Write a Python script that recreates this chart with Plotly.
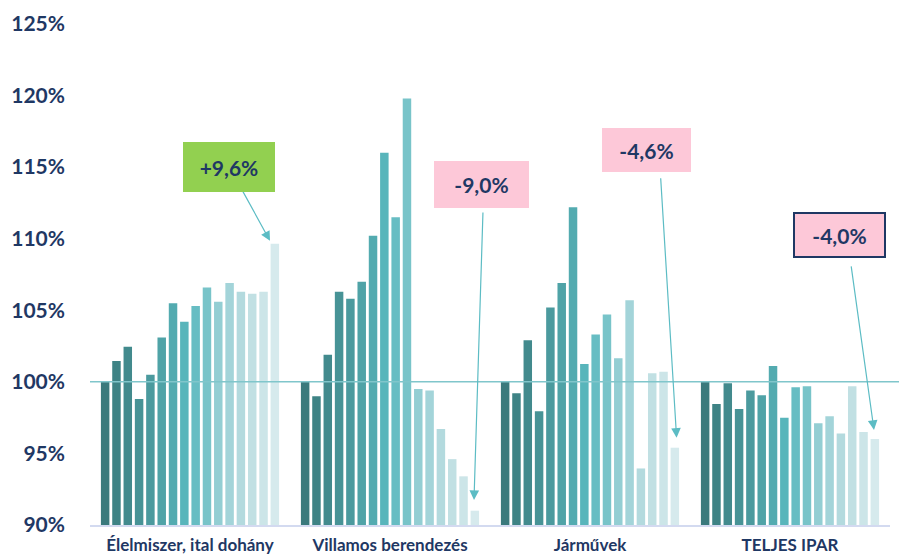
import plotly.graph_objects as go

categories = ["Élelmiszer, ital dohány", "Villamos berendezés", "Járművek", "TELJES IPAR"]
periods = [f"Időszak {i+1}" for i in range(16)]

elelmiszer = [100.0, 101.45, 102.45, 98.8, 100.5, 103.1, 105.5, 104.2, 105.3, 106.6, 105.6, 106.9, 106.3, 106.15, 106.3, 109.65]
villamos = [100.0, 99.0, 101.9, 106.3, 105.8, 107.0, 110.2, 116.0, 111.5, 119.8, 99.5, 99.4, 96.7, 94.6, 93.4, 91.0]
jarmuvek = [100.0, 99.2, 102.9, 97.95, 105.2, 106.9, 112.2, 101.25, 103.3, 104.7, 101.65, 105.7, 93.95, 100.6, 100.7, 95.4]
teljes = [100.0, 98.45, 99.9, 98.1, 99.4, 99.07, 101.1, 97.5, 99.63, 99.7, 97.1, 97.6, 96.4, 99.7, 96.5, 96.0]

series = [elelmiszer, villamos, jarmuvek, teljes]

colors = ["#3a7a7c", "#3e8385", "#428a8d", "#479396", "#4b9a9e", "#4fa3a7", "#53abb0", "#58b5bb",
          "#67bdc3", "#78c4c9", "#93ced3", "#a3d4d9", "#b3dade", "#c1e0e3", "#cce5e8", "#d6eaed"]

y_ticks = [90, 95, 100, 105, 110, 115, 120, 125]
y_tick_text = [f"{v}%" for v in y_ticks]

labels = ["+9,6%", "-9,0%", "-4,6%", "-4,0%"]

navy = "#1f3864"
arrow_col = "#5cbcc4"
font_family = "Lato, 'Open Sans', sans-serif"

fig = go.Figure()
x_pos = list(range(len(categories)))
for i, p in enumerate(periods):
    fig.add_trace(go.Bar(
        x=x_pos,
        y=[s[i] - 90 for s in series],
        base=90,
        name=p,
        marker=dict(color=colors[i], line=dict(width=0)),
        hovertemplate="%{y}",
    ))

fig.add_shape(type="line", xref="paper", yref="y", x0=0, x1=1.02, y0=100, y1=100,
              line=dict(color="#80c6cb", width=1.5), layer="above")

# arrows: tip in data coords, tail offset in px
arrows = [
    (0.40, 109.85, -28, -51),
    (1.42, 91.75, 9, -289),
    (2.433, 96.1, -16, -261),
    (3.42, 96.64, -23, -165),
]
for (x, y, ax, ay) in arrows:
    fig.add_annotation(x=x, y=y, xref="x", yref="y", text="", showarrow=True,
                       ax=ax, ay=ay, arrowhead=2, arrowsize=1.6, arrowwidth=1.2,
                       arrowcolor=arrow_col)

boxes = [
    (0.195, 115.02, 90, 48, "#92d050", None),
    (1.4575, 113.77, 93, 45, "#fdc8d8", None),
    (2.2815, 116.21, 87, 42, "#fdc8d8", None),
    (3.2475, 110.25, 91, 44, "#fdc8d8", navy),
]
for (x, y, w, h, bg, bc), t in zip(boxes, labels):
    kw = dict(bordercolor=bc, borderwidth=2) if bc else dict(borderwidth=0)
    fig.add_annotation(x=x, y=y, xref="x", yref="y", text=f"<b>{t}</b>", showarrow=False,
                       bgcolor=bg, width=w - (4 if bc else 0), height=h - (4 if bc else 0),
                       font=dict(family=font_family, size=21, color=navy), **kw)

fig.update_layout(
    width=899, height=558,
    margin=dict(l=90, r=9, t=24, b=33, autoexpand=False),
    paper_bgcolor="white", plot_bgcolor="white",
    barmode="group", bargap=0.095, bargroupgap=0.25,
    showlegend=False,
    font=dict(family=font_family, color=navy),
)
fig.update_xaxes(
    range=[-0.5, 3.5], tickmode="array", tickvals=x_pos,
    ticktext=[f"<b>{c}</b>" for c in categories],
    tickfont=dict(size=17, color=navy, family=font_family),
    showgrid=False, zeroline=False, showline=True, linecolor="#d3daf0", linewidth=2,
    ticks="", ticklabelstandoff=4, automargin=False,
)
fig.update_yaxes(
    range=[90, 125], tickmode="array", tickvals=y_ticks,
    ticktext=[f"<b>{t}</b>" for t in y_tick_text],
    tickfont=dict(size=21, color=navy, family=font_family),
    showgrid=False, zeroline=False, showline=False, ticks="",
    ticklabelstandoff=24, automargin=False,
)

fig.write_html("out.html")
